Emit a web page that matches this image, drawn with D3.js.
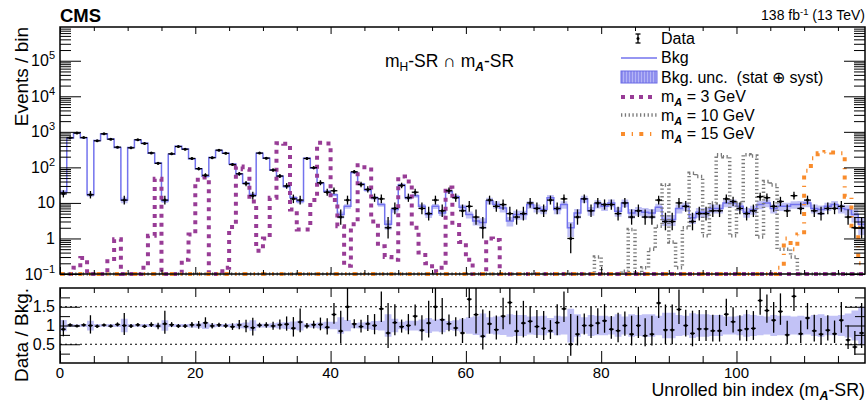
<!DOCTYPE html>
<html lang="en">
<head>
  <meta charset="UTF-8" />
  <title>Unrolled m_A-SR</title>
  <script src="https://cdnjs.cloudflare.com/ajax/libs/d3/7.8.5/d3.min.js"></script>
  <style>
    body { margin: 0; background: #fff; }
    svg { display: block; font-family: "Liberation Sans", Arial, Helvetica, sans-serif; }
  </style>
</head>
<body>
  <svg id="chart" width="868" height="403"></svg>

  <script>
    // background prediction per unrolled bin
    const bkg = [
      20, 670, 930, 680, 17, 570, 870, 630, 360, 12,
      360, 590, 480, 250, 132, 11.5, 235, 390, 330, 175,
      91, 56, 190, 300, 250, 124, 65, 36, 17, 250,
      180, 85, 56, 29, 14, 11, 180, 96, 36, 21,
      17, 4.7, 8, 72, 34, 23, 14, 9, 2.5, 6.5,
      32, 14, 16, 8, 4.7, 8, 5.2, 21, 15, 7.5,
      4.7, 3.1, 2.8, 11.5, 9, 7.2, 3.1, 4.7, 4.7, 9,
      7.2, 6.5, 14, 6.5, 9, 2.0, 5.2, 13, 6, 9.4,
      8, 10, 5.8, 10, 5.2, 6, 5.5, 5.2, 7.5, 3.4,
      3.4, 7, 8, 3.8, 5.5, 5.5, 7, 7, 10, 10,
      8, 5.5, 6.5, 9, 10, 7, 8, 8, 9, 9,
      10, 7, 6.5, 8, 9, 7, 6.5, 4.7, 2.5
    ];
    // relative bkg uncertainty (stat + syst)
    const bkgUnc = [
      0.15, 0.04, 0.03, 0.04, 0.13, 0.04, 0.03, 0.04, 0.04, 0.18,
      0.04, 0.03, 0.04, 0.04, 0.05, 0.14, 0.04, 0.04, 0.04, 0.05,
      0.06, 0.09, 0.05, 0.04, 0.04, 0.05, 0.07, 0.08, 0.14, 0.05,
      0.05, 0.06, 0.08, 0.09, 0.11, 0.13, 0.05, 0.06, 0.08, 0.10,
      0.10, 0.22, 0.15, 0.07, 0.08, 0.10, 0.12, 0.13, 0.30, 0.18,
      0.10, 0.13, 0.13, 0.16, 0.20, 0.16, 0.18, 0.12, 0.14, 0.18,
      0.22, 0.25, 0.32, 0.22, 0.24, 0.25, 0.30, 0.28, 0.28, 0.24,
      0.25, 0.26, 0.20, 0.26, 0.24, 0.45, 0.30, 0.22, 0.28, 0.26,
      0.26, 0.24, 0.30, 0.24, 0.30, 0.28, 0.30, 0.30, 0.26, 0.34,
      0.34, 0.28, 0.26, 0.33, 0.30, 0.30, 0.28, 0.28, 0.24, 0.24,
      0.26, 0.30, 0.28, 0.26, 0.24, 0.28, 0.26, 0.26, 0.24, 0.26,
      0.24, 0.28, 0.30, 0.26, 0.26, 0.28, 0.32, 0.40, 0.50
    ];
    // observed counts
    const obs = [
      18, 680, 920, 690, 17, 560, 880, 620, 370, 12,
      355, 600, 470, 255, 130, 12, 240, 385, 325, 178,
      92, 60, 188, 305, 248, 120, 66, 35, 16, 252,
      182, 84, 57, 30, 13, 12, 178, 98, 37, 20,
      22, 4, 12, 75, 33, 24, 14, 13, 2, 7,
      31, 14, 20, 7, 5, 12, 6, 22, 14, 6,
      8, 4, 2, 12, 8, 9, 5, 4, 5, 10,
      7, 6, 12, 7, 13, 1, 4, 13, 6, 10,
      9, 9, 5, 10, 4, 6, 4, 4, 12, 3,
      3, 10, 8, 3, 5, 5, 6, 6, 13, 11,
      7, 5, 6, 15, 14, 8, 11, 6, 16, 7,
      12, 6, 5, 7, 7, 8, 4, 2, 2
    ];
    // signal templates
    const sigA3 = [
      0, 0, 0.15, 0.28, 0, 0, 0, 0.23, 0.95, 0,
      0, 0, 0.15, 1.2, 48, 0, 0, 0, 0.25, 1.3,
      45, 52, 0, 0, 0.15, 2.1, 105, 88, 11, 0.45,
      1.0, 14, 480, 460, 6.5, 1.8, 1.8, 12, 490, 470,
      12, 2.2, 0.17, 2.5, 115, 100, 3, 0.6, 0.3, 0.25,
      55, 40, 2, 0.4, 0.2, 0.12, 0.15, 27, 2.4, 0.8,
      0.25, 0, 0, 1.0, 0.9, 0, 0, 0, 0, 0,
      0, 0, 0, 0, 0, 0, 0, 0, 0, 0,
      0, 0, 0, 0, 0, 0, 0, 0, 0, 0,
      0, 0, 0, 0, 0, 0, 0, 0, 0, 0,
      0, 0, 0, 0, 0, 0, 0, 0, 0, 0,
      0, 0, 0, 0, 0, 0, 0, 0, 0
    ];
    const sigA10 = [
      0, 0, 0, 0, 0, 0, 0, 0, 0, 0,
      0, 0, 0, 0, 0, 0, 0, 0, 0, 0,
      0, 0, 0, 0, 0, 0, 0, 0, 0, 0,
      0, 0, 0, 0, 0, 0, 0, 0, 0, 0,
      0, 0, 0, 0, 0, 0, 0, 0, 0, 0,
      0, 0, 0, 0, 0, 0, 0, 0, 0, 0,
      0, 0, 0, 0, 0, 0, 0, 0, 0, 0,
      0, 0, 0, 0, 0, 0, 0, 0, 0, 0.3,
      0, 0, 0, 0.12, 1.8, 0, 0.15, 0.5, 2.2, 32,
      0.8, 0.15, 2, 68, 55, 1.2, 10, 225, 200, 1.2,
      10, 225, 210, 1.1, 40, 32, 0.5, 0.5, 0.3, 0,
      0, 0, 0, 0, 0, 0, 0, 0, 0
    ];
    const sigA15 = [
      0, 0, 0, 0, 0, 0, 0, 0, 0, 0,
      0, 0, 0, 0, 0, 0, 0, 0, 0, 0,
      0, 0, 0, 0, 0, 0, 0, 0, 0, 0,
      0, 0, 0, 0, 0, 0, 0, 0, 0, 0,
      0, 0, 0, 0, 0, 0, 0, 0, 0, 0,
      0, 0, 0, 0, 0, 0, 0, 0, 0, 0,
      0, 0, 0, 0, 0, 0, 0, 0, 0, 0,
      0, 0, 0, 0, 0, 0, 0, 0, 0, 0,
      0, 0, 0, 0, 0, 0, 0, 0, 0, 0,
      0, 0, 0, 0, 0, 0, 0, 0, 0, 0,
      0, 0, 0, 0, 0, 0, 0.15, 1.0, 0.5, 1.3,
      80, 180, 250, 270, 260, 250, 15, 2, 0.2
    ];

    const xMajor = [0, 20, 40, 60, 80, 100];
    const yMajor = [0.1, 1, 10, 100, 1000, 10000, 100000];
    const yMajorLabels = [["10", "\u22121"], ["1", ""], ["10", ""], ["10", "2"], ["10", "3"], ["10", "4"], ["10", "5"]];
    const rMajor = [0.5, 1, 1.5];
    const rMinor = [0.25, 0.75, 1.25, 1.75];

    const colBkg = "#7373ee", colBand = "#9a9af0";
    const colA3 = "#983c96", colA10 = "#7a7a7a", colA15 = "#f98c2c";

    // panel geometry
    const L = 60, R = 865, T1 = 27, B1 = 274, T2 = 288, B2 = 363;
    const nBins = bkg.length;

    const svg = d3.select("#chart");
    const x = d3.scaleLinear().domain([0, nBins]).range([L, R]);
    const y = d3.scaleLog().domain([0.1, 8.9e5]).range([B1, T1]);
    const yr = d3.scaleLinear().domain([0, 2]).range([B2, T2]);
    const yc = v => y(Math.max(v, 0.1));

    const defs = svg.append("defs");
    defs.append("clipPath").attr("id", "clipTop")
      .append("rect").attr("x", L).attr("y", T1).attr("width", R - L).attr("height", B1 - T1);
    defs.append("clipPath").attr("id", "clipSig")
      .append("rect").attr("x", L).attr("y", T1).attr("width", R - L).attr("height", B1 - T1 + 2.5);
    defs.append("clipPath").attr("id", "clipRatio")
      .append("rect").attr("x", L).attr("y", T2).attr("width", R - L).attr("height", B2 - T2);
    const hatch = defs.append("pattern").attr("id", "hatch")
      .attr("patternUnits", "userSpaceOnUse").attr("width", 3).attr("height", 3);
    hatch.append("rect").attr("width", 3).attr("height", 3).attr("fill", "#b4b4f6");
    hatch.append("line").attr("x1", 1).attr("x2", 1).attr("y1", 0).attr("y2", 3)
      .attr("stroke", "#6a6ae6").attr("stroke-width", 1);

    // helper: histogram points incl. closing edge
    const histPts = vals => {
      const pts = vals.map((v, i) => [i, v]);
      pts.push([vals.length, vals[vals.length - 1]]);
      return pts;
    };
    const stepLine = d3.line().curve(d3.curveStepAfter).x(d => x(d[0])).y(d => yc(d[1]));

    // ---------------- top panel ----------------
    const topG = svg.append("g").attr("clip-path", "url(#clipTop)");

    const bandPts = bkg.map((v, i) => [i, v, bkgUnc[i]]);
    bandPts.push([nBins, bkg[nBins - 1], bkgUnc[nBins - 1]]);
    topG.append("path")
      .attr("d", d3.area().curve(d3.curveStepAfter)
        .x(d => x(d[0])).y0(d => yc(d[1] * (1 - d[2]))).y1(d => yc(d[1] * (1 + d[2])))(bandPts))
      .attr("fill", colBand).attr("opacity", 0.6);

    topG.append("path").attr("d", stepLine(histPts(bkg)))
      .attr("fill", "none").attr("stroke", colBkg).attr("stroke-width", 1.5);

    const sigG = svg.append("g").attr("clip-path", "url(#clipSig)");
    const sigStyles = [
      { vals: sigA10, color: colA10, w: 3.5, dash: "1.3 2.5" },
      { vals: sigA3, color: colA3, w: 4, dash: "4 5" },
      { vals: sigA15, color: colA15, w: 4, dash: "4 6.7 1.3 6.3" }
    ];
    sigStyles.forEach(s => {
      sigG.append("path").attr("d", stepLine(histPts(s.vals)))
        .attr("fill", "none").attr("stroke", s.color)
        .attr("stroke-width", s.w).attr("stroke-dasharray", s.dash);
    });

    // poisson-ish error bars
    const errUp = n => Math.sqrt(n + 0.25) + 0.5;
    const errDn = n => Math.sqrt(n + 0.25) - 0.5;

    const dataG = svg.append("g").attr("clip-path", "url(#clipTop)")
      .attr("stroke", "#000").attr("stroke-width", 1.3);
    obs.forEach((n, i) => {
      const cx = x(i + 0.5);
      dataG.append("line").attr("x1", x(i)).attr("x2", x(i + 1)).attr("y1", yc(n)).attr("y2", yc(n));
      dataG.append("line").attr("x1", cx).attr("x2", cx).attr("y1", yc(n + errUp(n))).attr("y2", yc(n - errDn(n)));
      dataG.append("circle").attr("cx", cx).attr("cy", yc(n)).attr("r", 1.5).attr("fill", "#000").attr("stroke", "none");
    });

    // ---------------- ratio panel ----------------
    const ratG = svg.append("g").attr("clip-path", "url(#clipRatio)");
    const rBand = bkgUnc.map((u, i) => [i, u]);
    rBand.push([nBins, bkgUnc[nBins - 1]]);
    ratG.append("path")
      .attr("d", d3.area().curve(d3.curveStepAfter)
        .x(d => x(d[0])).y0(d => yr(1 - d[1])).y1(d => yr(1 + d[1]))(rBand))
      .attr("fill", colBand).attr("opacity", 0.6);

    [0.5, 1.5].forEach(v => {
      ratG.append("line").attr("x1", L).attr("x2", R).attr("y1", yr(v)).attr("y2", yr(v))
        .attr("stroke", "#000").attr("stroke-width", 1).attr("stroke-dasharray", "2 3");
    });

    const rG = ratG.append("g").attr("stroke", "#000").attr("stroke-width", 1.3);
    obs.forEach((n, i) => {
      const b = bkg[i], r = n / b, cx = x(i + 0.5);
      rG.append("line").attr("x1", x(i) + 1).attr("x2", x(i + 1) - 1).attr("y1", yr(r)).attr("y2", yr(r));
      rG.append("line").attr("x1", cx).attr("x2", cx)
        .attr("y1", yr((n + errUp(n)) / b)).attr("y2", yr((n - errDn(n)) / b));
      rG.append("circle").attr("cx", cx).attr("cy", yr(r)).attr("r", 1.5).attr("fill", "#000").attr("stroke", "none");
    });

    // ---------------- axes ----------------
    const tickStyle = g => {
      g.select(".domain").remove();
      g.selectAll(".tick line").attr("stroke", "#000").attr("stroke-width", 1);
    };
    const xMinor = d3.range(0, nBins, 5).filter(v => v % 20 !== 0);
    const yMinor = [];
    for (let k = -1; k <= 5; k++) for (let m = 2; m <= 9; m++) {
      const v = m * Math.pow(10, k);
      if (v < 8.9e5) yMinor.push(v);
    }

    const addAxis = (axis, tx, ty) => svg.append("g").attr("transform", `translate(${tx},${ty})`).call(axis).call(tickStyle);

    // top panel x ticks (top + bottom)
    addAxis(d3.axisTop(x).tickValues(xMinor).tickSizeInner(-4).tickFormat(""), 0, T1);
    addAxis(d3.axisTop(x).tickValues(xMajor).tickSizeInner(-7).tickFormat(""), 0, T1);
    addAxis(d3.axisBottom(x).tickValues(xMinor).tickSizeInner(-4).tickFormat(""), 0, B1);
    addAxis(d3.axisBottom(x).tickValues(xMajor).tickSizeInner(-7).tickFormat(""), 0, B1);
    // top panel y ticks
    addAxis(d3.axisLeft(y).tickValues(yMinor).tickSizeInner(-11).tickFormat(""), L, 0);
    addAxis(d3.axisLeft(y).tickValues(yMajor).tickSizeInner(-21).tickFormat(""), L, 0);
    addAxis(d3.axisRight(y).tickValues(yMinor).tickSizeInner(-11).tickFormat(""), R, 0);
    addAxis(d3.axisRight(y).tickValues(yMajor).tickSizeInner(-21).tickFormat(""), R, 0);

    // ratio ticks
    addAxis(d3.axisTop(x).tickValues(xMinor).tickSizeInner(-5).tickFormat(""), 0, T2);
    addAxis(d3.axisTop(x).tickValues(xMajor).tickSizeInner(-9).tickFormat(""), 0, T2);
    addAxis(d3.axisBottom(x).tickValues(xMinor).tickSizeInner(-7).tickFormat(""), 0, B2);
    addAxis(d3.axisBottom(x).tickValues(xMajor).tickSizeInner(-12).tickFormat(""), 0, B2);
    addAxis(d3.axisLeft(yr).tickValues(rMinor).tickSizeInner(-10).tickFormat(""), L, 0);
    addAxis(d3.axisLeft(yr).tickValues(rMajor).tickSizeInner(-20).tickFormat(""), L, 0);
    addAxis(d3.axisRight(yr).tickValues(rMinor).tickSizeInner(-10).tickFormat(""), R, 0);
    addAxis(d3.axisRight(yr).tickValues(rMajor).tickSizeInner(-20).tickFormat(""), R, 0);

    // frames
    [[T1, B1], [T2, B2]].forEach(([t, b]) => {
      svg.append("rect").attr("x", L).attr("y", t).attr("width", R - L).attr("height", b - t)
        .attr("fill", "none").attr("stroke", "#000").attr("stroke-width", 1.5);
    });

    // tick labels
    yMajor.forEach((v, i) => {
      const [base, exp] = yMajorLabels[i];
      const t = svg.append("text").attr("x", 55).attr("y", y(v) + 5.5)
        .attr("text-anchor", "end").attr("font-size", 16);
      t.append("tspan").text(base);
      if (exp) t.append("tspan").attr("dy", -7).attr("font-size", 11).text(exp);
    });
    rMajor.forEach(v => {
      svg.append("text").attr("x", 55).attr("y", yr(v) + 5.5)
        .attr("text-anchor", "end").attr("font-size", 16).text(v);
    });
    xMajor.forEach(v => {
      svg.append("text").attr("x", x(v)).attr("y", 378)
        .attr("text-anchor", "middle").attr("font-size", 15).text(v);
    });

    // titles
    svg.append("text").attr("x", 60).attr("y", 22).attr("font-size", 18.5).attr("font-weight", "bold").text("CMS");
    const lumi = svg.append("text").attr("x", 865).attr("y", 20).attr("text-anchor", "end").attr("font-size", 14);
    lumi.append("tspan").text("138 fb");
    lumi.append("tspan").attr("dy", -5).attr("font-size", 9.5).text("-1");
    lumi.append("tspan").attr("dy", 5).text(" (13 TeV)");

    svg.append("text").attr("transform", `translate(28,${T1}) rotate(-90)`)
      .attr("text-anchor", "end").attr("font-size", 19).text("Events / bin");
    svg.append("text").attr("transform", `translate(28,${T2}) rotate(-90)`)
      .attr("text-anchor", "end").attr("font-size", 19).text("Data / Bkg.");

    const xt = svg.append("text").attr("x", 865).attr("y", 396).attr("text-anchor", "end").attr("font-size", 17.8);
    xt.append("tspan").text("Unrolled bin index (m");
    xt.append("tspan").attr("dy", 4).attr("font-size", 12.5).attr("font-style", "italic").attr("font-weight", "bold").text("A");
    xt.append("tspan").attr("dy", -4).text("-SR)");

    const reg = svg.append("text").attr("x", 385).attr("y", 67).attr("font-size", 17.5);
    reg.append("tspan").text("m");
    reg.append("tspan").attr("dy", 4).attr("font-size", 12).text("H");
    reg.append("tspan").attr("dy", -4).text("-SR \u2229 m");
    reg.append("tspan").attr("dy", 4).attr("font-size", 12).attr("font-style", "italic").attr("font-weight", "bold").text("A");
    reg.append("tspan").attr("dy", -4).text("-SR");

    // ---------------- legend ----------------
    const lg = svg.append("g");
    const lx0 = 621, lx1 = 657, tx = 661;
    // data
    lg.append("line").attr("x1", 638).attr("x2", 638).attr("y1", 34).attr("y2", 43).attr("stroke", "#000").attr("stroke-width", 1.3);
    [34, 43].forEach(yy => lg.append("line").attr("x1", 635.5).attr("x2", 640.5).attr("y1", yy).attr("y2", yy).attr("stroke", "#000").attr("stroke-width", 1.3));
    lg.append("circle").attr("cx", 638).attr("cy", 38.5).attr("r", 1.5).attr("fill", "#000");
    // bkg
    lg.append("line").attr("x1", lx0).attr("x2", lx1).attr("y1", 58).attr("y2", 58).attr("stroke", colBkg).attr("stroke-width", 1.5);
    lg.append("rect").attr("x", lx0).attr("y", 71).attr("width", lx1 - lx0).attr("height", 12)
      .attr("fill", "url(#hatch)").attr("stroke", "#6a6ae6").attr("stroke-width", 1);
    [[97, colA3, 4, "4 5"], [115, colA10, 3.5, "1.3 2.5"], [134, colA15, 4, "4 6.7 1.3 6.3"]].forEach(([yy, c, w, d]) => {
      lg.append("line").attr("x1", lx0).attr("x2", lx1).attr("y1", yy).attr("y2", yy)
        .attr("stroke", c).attr("stroke-width", w).attr("stroke-dasharray", d);
    });
    const lt = (yy, parts) => {
      const t = lg.append("text").attr("x", tx).attr("y", yy).attr("font-size", 16);
      parts.forEach(p => {
        const s = t.append("tspan").text(p.t);
        if (p.sub) s.attr("dy", 4).attr("font-size", 11).attr("font-style", "italic").attr("font-weight", "bold");
        if (p.back) s.attr("dy", -4);
      });
    };
    lt(44, [{ t: "Data" }]);
    lt(63, [{ t: "Bkg" }]);
    lt(83, [{ t: "Bkg. unc.\u00a0 (stat \u2295 syst)" }]);
    lt(102, [{ t: "m" }, { t: "A", sub: true }, { t: " = 3 GeV", back: true }]);
    lt(121, [{ t: "m" }, { t: "A", sub: true }, { t: " = 10 GeV", back: true }]);
    lt(139, [{ t: "m" }, { t: "A", sub: true }, { t: " = 15 GeV", back: true }]);
  </script>
</body>
</html>
